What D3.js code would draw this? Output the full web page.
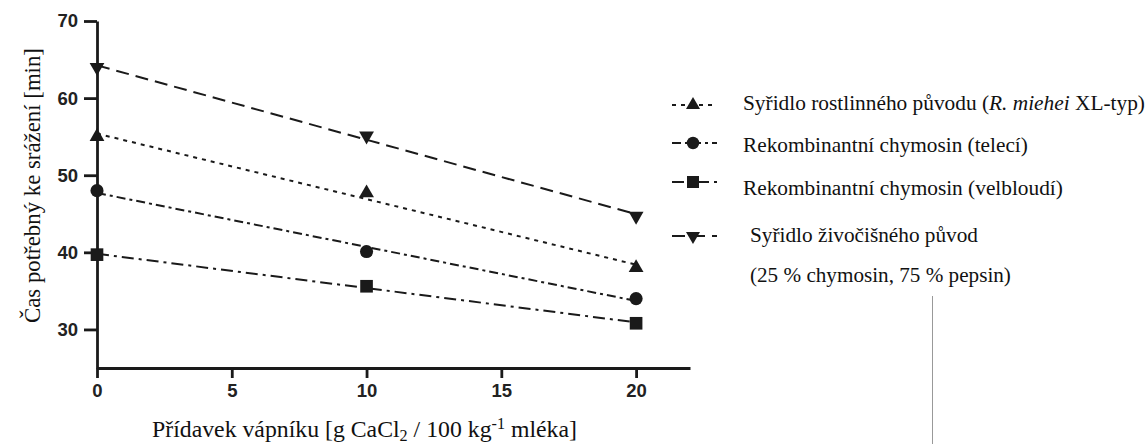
<!DOCTYPE html>
<html>
<head>
<meta charset="utf-8">
<script src="https://cdn.jsdelivr.net/npm/d3@7"></script>
<style>
  body { margin: 0; background: #fff; }
  svg { display: block; }
  .tick text { font-family: "Liberation Sans", Arial, sans-serif; font-weight: bold; font-size: 18.5px; fill: #222; }
  .title { font-family: "Liberation Serif", "DejaVu Serif", serif; font-size: 22px; fill: #111; }
</style>
</head>
<body>
<svg id="chart" width="1147" height="444"></svg>
<script>
// data
var doses = [0, 10, 20];
var plantRennet = [55, 47.7, 38];       // triangle up
var calfChymosin = [48, 40.1, 34];      // circle
var camelChymosin = [39.7, 35.6, 30.8]; // square
var animalRennet = [64, 55.1, 44.7];    // triangle down
var xTicks = [0, 5, 10, 15, 20];
var yTicks = [30, 40, 50, 60, 70];
var seriesNames = [
  "Syřidlo rostlinného původu",
  "Rekombinantní chymosin (telecí)",
  "Rekombinantní chymosin (velbloudí)",
  "Syřidlo živočišného původ"
];

var svg = d3.select("#chart");
var ink = "#1a1a1a";

var x = d3.scaleLinear().domain([0, 22]).range([97, 690]);
var y = d3.scaleLinear().domain([25, 70]).range([368, 21]);

var series = [
  {vals: plantRennet,   sym: d3.symbolTriangle, rot: 0,   size: 95,  dash: "4,5"},
  {vals: calfChymosin,  sym: d3.symbolCircle,   rot: 0,   size: 135, dash: "9,4,3,4"},
  {vals: camelChymosin, sym: d3.symbolSquare,   rot: 0,   size: 160, dash: "12,5,3,5"},
  {vals: animalRennet,  sym: d3.symbolTriangle, rot: 180, size: 95,  dash: "13,7"}
];

// least squares fit through the points of a series
function fit(vals) {
  var mx = d3.mean(doses), my = d3.mean(vals);
  var num = d3.sum(doses, function(d, i){ return (d - mx) * (vals[i] - my); });
  var den = d3.sum(doses, function(d){ return (d - mx) * (d - mx); });
  var b = num / den;
  return {a: my - b * mx, b: b};
}

// scale a text's font so that it is as wide as in the source
function fitWidth(sel, w) {
  var cur = sel.node().getComputedTextLength();
  sel.style("font-size", (22 * w / cur).toFixed(2) + "px");
  return sel;
}

// axes
var xAxis = svg.append("g")
  .attr("transform", "translate(0," + y(25) + ")")
  .call(d3.axisBottom(x).tickValues(xTicks).tickSize(10).tickPadding(6).tickSizeOuter(0));
var yAxis = svg.append("g")
  .attr("transform", "translate(" + x(0) + ",0)")
  .call(d3.axisLeft(y).tickValues(yTicks).tickSize(13).tickPadding(6).tickSizeOuter(0));
[xAxis, yAxis].forEach(function(g){
  g.select(".domain").attr("stroke", ink).attr("stroke-width", 2.8);
  g.selectAll(".tick line").attr("stroke", ink).attr("stroke-width", 2.8);
});

// fitted lines
var line = d3.line().x(function(d){ return x(d[0]); }).y(function(d){ return y(d[1]); });
series.forEach(function(s){
  var f = fit(s.vals);
  svg.append("path")
    .attr("d", line([[0, f.a], [20, f.a + f.b * 20]]))
    .attr("fill", "none").attr("stroke", ink).attr("stroke-width", 2)
    .attr("stroke-dasharray", s.dash);
});

// markers
series.forEach(function(s){
  svg.append("g").selectAll("path").data(s.vals).enter()
    .append("path")
    .attr("d", d3.symbol().type(s.sym).size(s.size))
    .attr("transform", function(d, i){
      return "translate(" + x(doses[i]) + "," + y(d) + ") rotate(" + s.rot + ")";
    })
    .attr("fill", ink);
});

// axis titles
var xt = svg.append("text").attr("class", "title")
  .attr("x", 364.5).attr("y", 437).attr("text-anchor", "middle");
xt.append("tspan").text("Přídavek vápníku [g CaCl");
xt.append("tspan").attr("font-size", "0.68em").attr("dy", 4).text("2");
xt.append("tspan").attr("dy", -4).text(" / 100 kg");
xt.append("tspan").attr("font-size", "0.68em").attr("dy", -8).text("-1");
xt.append("tspan").attr("dy", 8).text(" mléka]");
fitWidth(xt, 425);

var yt = svg.append("text").attr("class", "title")
  .attr("transform", "translate(40,185.5) rotate(-90)")
  .attr("text-anchor", "middle")
  .text("Čas potřebný ke srážení [min]");
fitWidth(yt, 275);

// legend
var legRows = [105, 143, 182, 236];
var textBase = [110, 152, 195, 242];
var textX = [743, 743, 743, 750];
var textW = [402, 285, 320, 228];
series.forEach(function(s, i){
  var ly = legRows[i];
  svg.append("line")
    .attr("x1", 672).attr("x2", 717).attr("y1", ly).attr("y2", ly)
    .attr("stroke", ink).attr("stroke-width", 2).attr("stroke-dasharray", s.dash);
  svg.append("path")
    .attr("d", d3.symbol().type(s.sym).size(s.size * 0.9))
    .attr("transform", "translate(693," + ly + ") rotate(" + s.rot + ")")
    .attr("fill", ink);
});

svg.selectAll(".leg").data(seriesNames).enter()
  .append("text").attr("class", "title leg")
  .attr("x", function(d, i){ return textX[i]; })
  .attr("y", function(d, i){ return textBase[i]; })
  .each(function(d, i){
    var t = d3.select(this);
    if (i === 0) {
      t.append("tspan").text(d + " (");
      t.append("tspan").attr("font-style", "italic").text("R. miehei");
      t.append("tspan").text(" XL-typ)");
    } else {
      t.text(d);
    }
    fitWidth(t, textW[i]);
  });
var note = svg.append("text").attr("class", "title").attr("x", 750).attr("y", 282)
  .text("(25 % chymosin, 75 % pepsin)");
fitWidth(note, 261);

// stray divider line from the source image
svg.append("line").attr("x1", 932.5).attr("x2", 932.5).attr("y1", 296).attr("y2", 444)
  .attr("stroke", "#999").attr("stroke-width", 1);
</script>
</body>
</html>
